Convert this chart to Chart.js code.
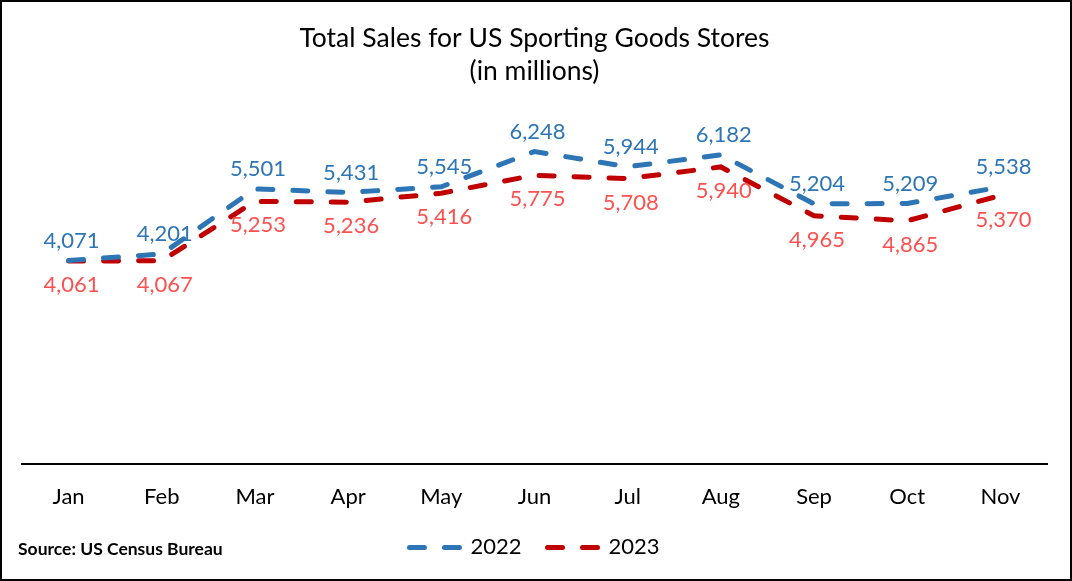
<!DOCTYPE html>
<html>
<head>
<meta charset="utf-8">
<script src="https://cdn.jsdelivr.net/npm/chart.js@4.4.0/dist/chart.umd.min.js"></script>
<style>
  html, body { margin: 0; padding: 0; background: #fff; }
  #wrap { width: 1072px; height: 581px; position: relative; }
</style>
</head>
<body>
<div id="wrap"><canvas id="myChart" width="1072" height="581"></canvas></div>
<script>
const months = ["Jan", "Feb", "Mar", "Apr", "May", "Jun", "Jul", "Aug", "Sep", "Oct", "Nov"];
const sales2022 = [4071, 4201, 5501, 5431, 5545, 6248, 5944, 6182, 5204, 5209, 5538];
const sales2023 = [4061, 4067, 5253, 5236, 5416, 5775, 5708, 5940, 4965, 4865, 5370];
const titleLines = ["Total Sales for US Sporting Goods Stores", "(in millions)"];
const sourceText = "Source: US Census Bureau";

const blue = "#2E75B6";
const red = "#C00000";
const redLabel = "#FF5050";
const fontName = "Lato";
const dash = [15, 20];

// draws the value next to every point (above for 2022, below for 2023)
const valueLabels = {
  id: "valueLabels",
  afterDatasetsDraw(chart) {
    const ctx = chart.ctx;
    ctx.save();
    ctx.font = "22px " + fontName;
    ctx.textAlign = "center";
    ctx.textBaseline = "middle";
    chart.data.datasets.forEach((ds, i) => {
      const meta = chart.getDatasetMeta(i);
      meta.data.forEach((pt, j) => {
        const txt = ds.data[j].toLocaleString("en-US");
        if (i === 0) {
          ctx.fillStyle = blue;
          ctx.fillText(txt, pt.x + 3, pt.y - 20);
        } else {
          ctx.fillStyle = redLabel;
          ctx.fillText(txt, pt.x + 3, pt.y + 24);
        }
      });
    });
    ctx.restore();
  }
};

// source note and frame
const frame = {
  id: "frame",
  afterDraw(chart) {
    const ctx = chart.ctx;
    ctx.save();
    ctx.fillStyle = "#000";
    ctx.font = "bold 17.5px " + fontName;
    ctx.textAlign = "left";
    ctx.textBaseline = "middle";
    ctx.fillText(sourceText, 18, 549);
    ctx.strokeStyle = "#000";
    ctx.lineWidth = 2;
    ctx.strokeRect(1, 1, chart.width - 2, chart.height - 2);
    ctx.restore();
  }
};

const ctx = document.querySelector("#myChart").getContext("2d");

let myChart = new Chart(ctx, {
  type: "line",
  data: {
    labels: months,
    datasets: [
      {
        label: "2022",
        data: sales2022,
        borderColor: blue,
        backgroundColor: blue,
        borderWidth: 5,
        borderDash: dash,
        borderCapStyle: "round",
        pointRadius: 0,
        tension: 0,
      },
      {
        label: "2023",
        data: sales2023,
        borderColor: red,
        backgroundColor: red,
        borderWidth: 5,
        borderDash: dash,
        borderCapStyle: "round",
        pointRadius: 0,
        tension: 0,
      },
    ],
  },
  options: {
    responsive: false,
    animation: false,
    layout: {
      padding: { left: 22, right: 25, bottom: 12.6 },
    },
    plugins: {
      title: {
        display: true,
        text: titleLines,
        color: "#000",
        font: { family: fontName, size: 26.5, weight: "normal", lineHeight: 1.28 },
        padding: { top: 21, bottom: 5 },
      },
      legend: {
        position: "bottom",
        labels: {
          usePointStyle: true,
          pointStyle: "line",
          pointStyleWidth: 50,
          color: "#000",
          padding: 26,
          font: { family: fontName, size: 22 },
          generateLabels(chart) {
            const items = Chart.defaults.plugins.legend.labels.generateLabels(chart);
            items.forEach((it) => {
              const ds = chart.data.datasets[it.datasetIndex];
              it.lineDash = ds.borderDash;
              it.lineCap = "round";
              it.lineWidth = 5;
              it.strokeStyle = ds.borderColor;
            });
            return items;
          },
        },
      },
      tooltip: { enabled: false },
    },
    scales: {
      x: {
        offset: true,
        grid: { display: false, drawTicks: false },
        border: { display: true, color: "#000", width: 2 },
        ticks: {
          color: "#000",
          padding: 19,
          maxRotation: 0,
          font: { family: fontName, size: 22 },
        },
        afterFit(scale) {
          scale.height = 46;
        },
      },
      y: {
        display: false,
        min: 0,
        max: 7400,
      },
    },
  },
  plugins: [valueLabels, frame],
});
</script>
</body>
</html>
